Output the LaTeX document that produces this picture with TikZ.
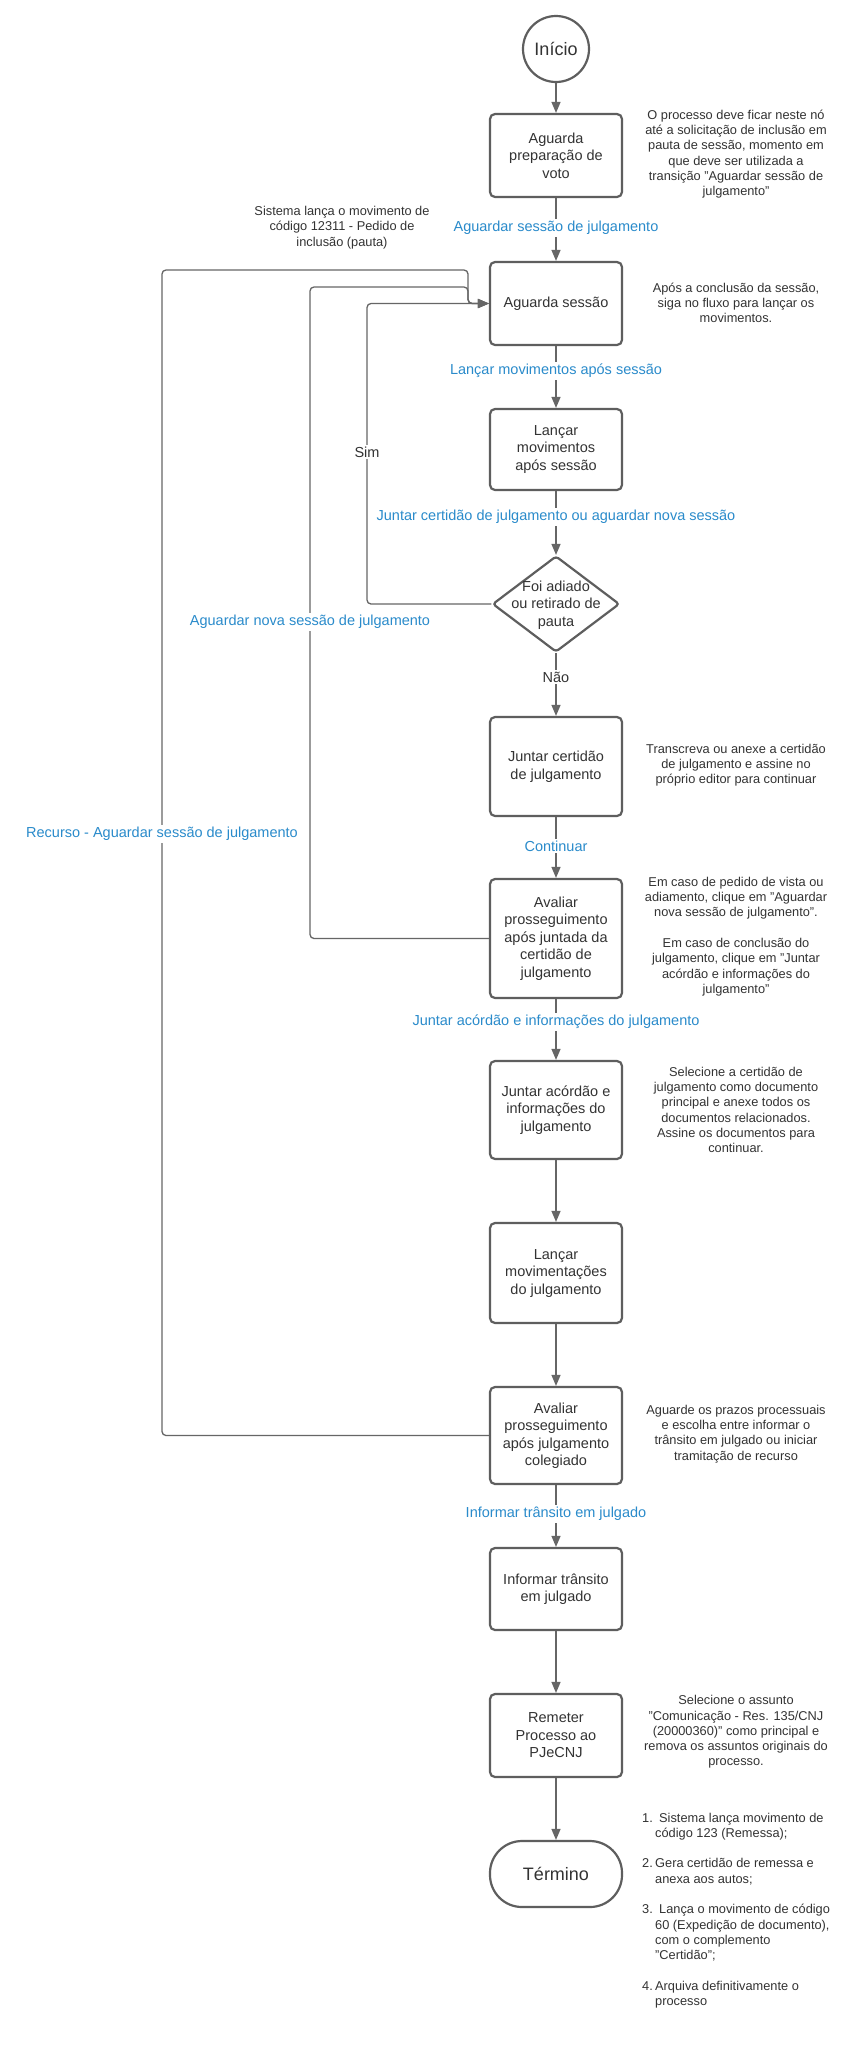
\documentclass[tikz,border=0pt]{standalone}
\usepackage{fontspec}
\setmainfont{Liberation Sans}
\usetikzlibrary{arrows.meta,shapes.geometric}
\definecolor{edgegray}{HTML}{5E5E5E}
\definecolor{conngray}{HTML}{666666}
\definecolor{txtgray}{HTML}{333333}
\definecolor{lblblue}{HTML}{2A8BCB}
\begin{document}
\begin{tikzpicture}[x=1pt,y=-1pt,
  box/.style={draw=edgegray, line width=2.2pt, rounded corners=5pt, fill=white,
    minimum width=132pt, inner sep=0pt, align=center, text=txtgray,
    font=\fontsize{14.5}{17.5}\selectfont},
  flow/.style={draw=conngray, line width=1.3pt, rounded corners=4pt,
    -{Triangle[length=11pt,width=9pt]}},
  lbl/.style={fill=white, text=lblblue, inner sep=2pt,
    font=\fontsize{14.5}{17.5}\selectfont},
  dlbl/.style={fill=white, text=txtgray, inner sep=2pt,
    font=\fontsize{14.5}{17.5}\selectfont},
  note/.style={align=center, text=txtgray, inner sep=0pt,
    font=\fontsize{12.8}{15.3}\selectfont}]
\fill[white] (0,0) rectangle (864,2048);
\useasboundingbox (0,0) rectangle (864,2048);

% nodes
\node[box, shape=circle, minimum size=66pt, rounded corners=0pt,
  font=\fontsize{18}{21}\selectfont] (start) at (556,49) {Início};
\node[box, minimum height=83pt] (b1) at (556,155.5) {Aguarda\\preparação de\\voto};
\node[box, minimum height=83pt] (b2) at (556,303.5) {Aguarda sessão};
\node[box, minimum height=81pt] (b3) at (556,449.5) {Lançar\\movimentos\\após sessão};
\node[box, shape=diamond, minimum width=127pt, minimum height=96pt, rounded corners=3pt] (dia) at (556,604) {};
\node[align=center, text=txtgray, inner sep=0pt, font=\fontsize{14.5}{17.5}\selectfont] (diatext) at (556,605) {Foi adiado\\ou retirado de\\pauta};
\node[box, minimum height=99pt] (b4) at (556,766.5) {Juntar certidão\\de julgamento};
\node[box, minimum height=119pt] (b5) at (556,938.5) {Avaliar\\prosseguimento\\após juntada da\\certidão de\\julgamento};
\node[box, minimum height=98pt] (b6) at (556,1110) {Juntar acórdão e\\informações do\\julgamento};
\node[box, minimum height=100pt] (b7) at (556,1273) {Lançar\\movimentações\\do julgamento};
\node[box, minimum height=97pt] (b8) at (556,1435.5) {Avaliar\\prosseguimento\\após julgamento\\colegiado};
\node[box, minimum height=82pt] (b9) at (556,1589) {Informar trânsito\\em julgado};
\node[box, minimum height=83pt] (b10) at (556,1735.5) {Remeter\\Processo ao\\PJeCNJ};
\node[box, minimum height=66pt, rounded corners=32pt,
  font=\fontsize{18}{21}\selectfont] (stop) at (556,1874) {Término};

% bend points
\coordinate (oL) at (162,270);
\coordinate (mL) at (310,287);
\coordinate (jn) at (468,303.5);
\coordinate (iL) at (367,303.5);

% main connectors
\draw[flow] (start) -- (b1);
\draw[flow] (b1) -- (b2);
\draw[flow] (b2) -- (b3);
\draw[flow] (b3) -- (dia);
\draw[flow] (dia) -- (b4);
\draw[flow] (b4) -- (b5);
\draw[flow] (b5) -- (b6);
\draw[flow] (b6) -- (b7);
\draw[flow] (b7) -- (b8);
\draw[flow] (b8) -- (b9);
\draw[flow] (b9) -- (b10);
\draw[flow] (b10) -- (stop);

% loops back to Aguarda sessao
\draw[flow] (b8.west) -| (oL) -| (jn) -- (b2.west);
\draw[flow] (b5.west) -| (mL) -| (jn) -- (b2.west);
\draw[flow] (dia.west) -| (iL) -- (b2.west);

% connector labels
\node[lbl] (l1) at (556,228) {Aguardar sessão de julgamento};
\node[lbl] (l2) at (556,371) {Lançar movimentos após sessão};
\node[lbl] (l3) at (556,517) {Juntar certidão de julgamento ou aguardar nova sessão};
\node[dlbl] (l4) at (556,677) {Não};
\node[lbl] (l5) at (556,846) {Continuar};
\node[lbl] (l6) at (556,1022) {Juntar acórdão e informações do julgamento};
\node[lbl] (l7) at (556,1514) {Informar trânsito em julgado};
\node[dlbl] (l8) at (367,452) {Sim};
\node[lbl] (l9) at (310,622) {Aguardar nova sessão de julgamento};
\node[lbl] (l10) at (162,834) {Recurso - Aguardar sessão de julgamento};

% notes
\node[note] (n1) at (736,154) {O processo deve ficar neste nó\\até a solicitação de inclusão em\\pauta de sessão, momento em\\que deve ser utilizada a\\transição "Aguardar sessão de\\julgamento"};
\node[note] (n0) at (342,227.5) {Sistema lança o movimento de\\código 12311 - Pedido de\\inclusão (pauta)};
\node[note] (n2) at (736,303) {Após a conclusão da sessão,\\siga no fluxo para lançar os\\movimentos.};
\node[note] (n4) at (736,765) {Transcreva ou anexe a certidão\\de julgamento e assine no\\próprio editor para continuar};
\node[note] (n5) at (736,936.5) {Em caso de pedido de vista ou\\adiamento, clique em "Aguardar\\nova sessão de julgamento".\\[15.3pt]Em caso de conclusão do\\julgamento, clique em "Juntar\\acórdão e informações do\\julgamento"};
\node[note] (n6) at (736,1110) {Selecione a certidão de\\julgamento como documento\\principal e anexe todos os\\documentos relacionados.\\Assine os documentos para\\continuar.};
\node[note] (n8) at (736,1434) {Aguarde os prazos processuais\\e escolha entre informar o\\trânsito em julgado ou iniciar\\tramitação de recurso};
\node[note] (n10) at (736,1732) {Selecione o assunto\\"Comunicação - Res. 135/CNJ\\(20000360)" como principal e\\remova os assuntos originais do\\processo.};
\node[note, align=left, anchor=west] (list) at (642,1910.5) {\makebox[17pt][l]{1.}Sistema lança movimento de\\\hspace*{13pt}código 123 (Remessa);\\[15.3pt]\makebox[13pt][l]{2.}Gera certidão de remessa e\\\hspace*{13pt}anexa aos autos;\\[15.3pt]\makebox[17pt][l]{3.}Lança o movimento de código\\\hspace*{13pt}60 (Expedição de documento),\\\hspace*{13pt}com o complemento\\\hspace*{13pt}"Certidão";\\[15.3pt]\makebox[13pt][l]{4.}Arquiva definitivamente o\\\hspace*{13pt}processo};
\end{tikzpicture}
\end{document}
